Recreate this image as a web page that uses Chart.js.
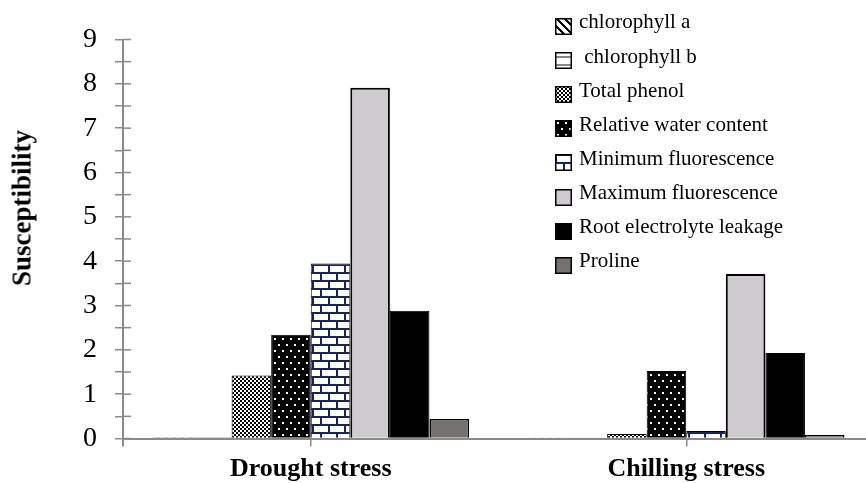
<!DOCTYPE html>
<html><head><meta charset="utf-8">
<script src="https://cdn.jsdelivr.net/npm/chart.js@4.4.1/dist/chart.umd.min.js"></script>
<style>
html,body{margin:0;padding:0;background:#fff;overflow:hidden;width:866px;height:483px;}
#wrap{position:relative;width:866px;height:483px;overflow:hidden;background:#fff;}
#c{position:absolute;left:0;top:0;}
.ytitle{position:absolute;left:22px;top:208px;transform:translate(-50%,-50%) rotate(-90deg);font:bold 27px 'Liberation Serif',serif;white-space:nowrap;color:#000;}
.lg{position:absolute;font:21px 'Liberation Serif',serif;line-height:21px;white-space:pre;color:#000;}
.sw{position:absolute;}
</style></head>
<body><div id="wrap"><canvas id="c" width="874" height="483"></canvas><div class="ytitle">Susceptibility</div></div>
<script>
// ---- data ----
const categories = ['Drought stress', 'Chilling stress'];
const seriesNames = ['chlorophyll a', ' chlorophyll b', 'Total phenol', 'Relative water content',
  'Minimum fluorescence', 'Maximum fluorescence', 'Root electrolyte leakage', 'Proline'];
const chlorophyllA = [0.03, 0.01];
const chlorophyllB = [0.03, 0.01];
const totalPhenol = [1.42, 0.10];
const relativeWaterContent = [2.34, 1.52];
const minimumFluorescence = [3.95, 0.17];
const maximumFluorescence = [7.91, 3.71];
const rootElectrolyteLeakage = [2.88, 1.93];
const proline = [0.44, 0.08];
const yTickLabels = ['0', '1', '2', '3', '4', '5', '6', '7', '8', '9'];

// ---- styles ----
const axisGray = '#8a8a8a';
const navy = '#14236a';
function tile(w, h, draw) { const c = document.createElement('canvas'); c.width = w; c.height = h; const g = c.getContext('2d'); draw(g, w, h); return c; }
const tiles = [
  tile(8, 8, (g, w, h) => { g.fillStyle = '#fff'; g.fillRect(0, 0, w, h); g.fillStyle = '#000';
    for (let x = 0; x < w; x++) for (let y = 0; y < h; y++) if (((x - y + 16) % 8) < 3) g.fillRect(x, y, 1, 1); }),
  tile(4, 8, (g, w, h) => { g.fillStyle = '#fff'; g.fillRect(0, 0, w, h); g.fillStyle = '#888'; g.fillRect(0, 4, w, 2); }),
  tile(4, 4, (g, w, h) => { g.fillStyle = '#fff'; g.fillRect(0, 0, w, h); g.fillStyle = '#000'; g.fillRect(0, 0, 2, 2); g.fillRect(2, 2, 2, 2); }),
  tile(8, 12, (g, w, h) => { g.fillStyle = '#000'; g.fillRect(0, 0, w, h); g.fillStyle = '#fff'; g.fillRect(2, 2, 2, 2); g.fillRect(6, 8, 2, 2); }),
  tile(16, 16, (g, w, h) => { g.fillStyle = '#fff'; g.fillRect(0, 0, w, h); g.fillStyle = navy;
    g.fillRect(0, 0, w, 2); g.fillRect(0, 8, w, 2); g.fillRect(0, 0, 2, 8); g.fillRect(8, 8, 2, 8); }),
  null, null, null
];
const solidColors = [null, null, null, null, null, '#cdcbcd', '#000000', '#767171'];
const borderWidths = [1, 1, 1, 1, 1, 2, 1, 1.5];

const canvas = document.getElementById('c');
const ctx = canvas.getContext('2d');
const fills = tiles.map((t, i) => t ? ctx.createPattern(t, 'repeat') : solidColors[i]);
const seriesValues = [chlorophyllA, chlorophyllB, totalPhenol, relativeWaterContent,
  minimumFluorescence, maximumFluorescence, rootElectrolyteLeakage, proline];

const crossTicks = {
  id: 'crossTicks',
  afterDraw(chart) {
    const { ctx, chartArea } = chart; const y = chart.scales.y;
    ctx.save(); ctx.strokeStyle = axisGray; ctx.lineWidth = 1.5;
    y.ticks.forEach(t => { const py = y.getPixelForValue(t.value); ctx.beginPath(); ctx.moveTo(chartArea.left, py); ctx.lineTo(chartArea.left + 8, py); ctx.stroke(); });
    ctx.lineWidth = 2; ctx.beginPath(); ctx.moveTo(chartArea.left, chartArea.bottom); ctx.lineTo(chartArea.left, chartArea.bottom + 8); ctx.stroke();
    ctx.restore();
  }
};

const chart = new Chart(ctx, {
  type: 'bar',
  data: {
    labels: categories,
    datasets: seriesNames.map((n, i) => ({
      label: n, data: seriesValues[i], backgroundColor: fills[i], borderColor: '#000', borderWidth: borderWidths[i],
      categoryPercentage: 0.843, barPercentage: 1.0
    }))
  },
  options: {
    responsive: false, animation: false, devicePixelRatio: 1,
    layout: { padding: { top: 39.5, left: 0, right: 0, bottom: 0 } },
    plugins: { legend: { display: false }, tooltip: { enabled: false } },
    scales: {
      x: {
        type: 'category', offset: true,
        grid: { display: true, offset: false, drawOnChartArea: false, drawTicks: true, tickLength: 8, color: axisGray, lineWidth: 1.5 },
        border: { display: true, color: axisGray, width: 2 },
        ticks: { color: '#000', font: { family: 'Liberation Serif', size: 26, weight: 'bold' }, padding: 7, maxRotation: 0, autoSkip: false },
        afterFit(s) { s.height = 44.5; }
      },
      y: {
        min: 0, max: 9,
        ticks: { stepSize: 0.5, autoSkip: false, color: '#000', font: { family: 'Liberation Serif', size: 28 }, padding: 18,
          callback: v => Number.isInteger(v) ? yTickLabels[v] : '' },
        grid: { drawOnChartArea: false, drawTicks: true, tickLength: 8, color: axisGray, lineWidth: 1.5 },
        border: { display: true, color: axisGray, width: 2 },
        afterFit(s) { s.width = 123; }
      }
    }
  },
  plugins: [crossTicks]
});

// ---- legend (HTML) ----
const wrap = document.getElementById('wrap');
seriesNames.forEach((n, i) => {
  const base = 29 + i * 34.1;
  const sw = document.createElement('canvas'); sw.width = 17; sw.height = 17; sw.className = 'sw';
  sw.style.left = '555px'; sw.style.top = Math.round(base - 11) + 'px';
  const g = sw.getContext('2d');
  g.fillStyle = tiles[i] ? g.createPattern(tiles[i], 'repeat') : solidColors[i];
  g.fillRect(0, 0, 17, 17);
  g.strokeStyle = '#000'; g.lineWidth = 1.5; g.strokeRect(0.75, 0.75, 15.5, 15.5);
  wrap.appendChild(sw);
  const t = document.createElement('div'); t.className = 'lg'; t.textContent = n;
  t.style.left = '579px'; t.style.top = (base - 17.6) + 'px';
  wrap.appendChild(t);
});
</script>
</body></html>
